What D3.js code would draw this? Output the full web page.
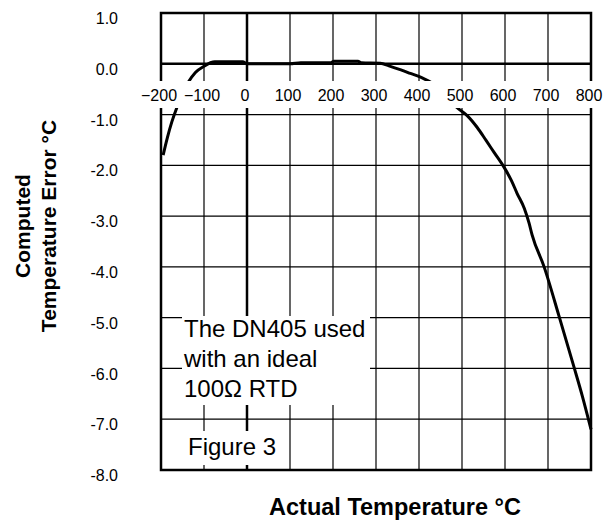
<!DOCTYPE html>
<html lang="en">
<head>
  <meta charset="UTF-8">
  <script src="https://d3js.org/d3.v7.min.js"></script>
  <style>
    body {
      margin: 0;
      padding: 0;
      background: #fff;
      font-family: "Liberation Sans", Arial, Helvetica, sans-serif;
    }
    .tick-label { font-size: 16px; fill: #000; }
    .note { font-size: 24px; fill: #000; }
    .title { font-size: 21px; font-weight: bold; fill: #000; }
  </style>
</head>
<body>
  <div id="chart"></div>

  <script>
    // curve: actual temperature (°C) vs computed error (°C)
    const temps = [-195, -185, -175, -163, -150, -137, -120, -100, -85, -75, -50, -10,
                   0, 50, 100, 125, 195, 202, 258, 266, 310, 330, 358, 380, 405, 435,
                   460, 488, 512, 535, 556, 575, 598, 615, 628, 645, 656, 663, 691,
                   726, 760, 780, 800];
    const errors = [-1.80, -1.45, -1.15, -0.86, -0.60, -0.37, -0.17, -0.05, 0.02, 0.04, 0.04, 0.04,
                    0.0, 0.0, 0.0, 0.02, 0.02, 0.05, 0.05, 0.02, 0.01, -0.04, -0.12, -0.19, -0.27, -0.41,
                    -0.60, -0.86, -1.02, -1.25, -1.51, -1.75, -2.04, -2.30, -2.55, -2.85, -3.14, -3.37, -4.00,
                    -4.98, -5.96, -6.55, -7.20];

    const xTicks = [-200, -100, 0, 100, 200, 300, 400, 500, 600, 700, 800];
    const yTicks = [1, 0, -1, -2, -3, -4, -5, -6, -7, -8];
    const yTickLabels = ["1.0", "0.0", "-1.0", "-2.0", "-3.0", "-4.0", "-5.0", "-6.0", "-7.0", "-8.0"];

    const noteLines = ["The DN405 used", "with an ideal", "100\u03A9 RTD"];
    const figureLabel = "Figure 3";
    const xTitle = "Actual Temperature \u00B0C";
    const yTitleLines = ["Computed", "Temperature Error \u00B0C"];

    const width = 608, height = 521;
    const plot = { left: 161, right: 591, top: 13, bottom: 470 };

    const svg = d3.select("#chart").append("svg")
      .attr("width", width)
      .attr("height", height);

    const x = d3.scaleLinear().domain([-200, 800]).range([plot.left, plot.right]);
    const y = d3.scaleLinear().domain([1, -8]).range([plot.top, plot.bottom]);

    // grid
    const grid = svg.append("g");
    grid.selectAll("line.v")
      .data(xTicks)
      .enter().append("line")
      .attr("x1", d => x(d)).attr("x2", d => x(d))
      .attr("y1", plot.top).attr("y2", plot.bottom)
      .attr("stroke", "#000")
      .attr("stroke-width", d => d === 0 ? 2.5 : 1.2);
    grid.selectAll("line.h")
      .data(yTicks)
      .enter().append("line")
      .attr("x1", plot.left).attr("x2", plot.right)
      .attr("y1", d => y(d)).attr("y2", d => y(d))
      .attr("stroke", "#000")
      .attr("stroke-width", d => d === 0 ? 2.5 : 1.2);

    // error curve
    const line = d3.line()
      .x((d, i) => x(temps[i]))
      .y(d => y(d))
      .curve(d3.curveMonotoneX);

    svg.append("path")
      .datum(errors)
      .attr("d", line)
      .attr("fill", "none")
      .attr("stroke", "#000")
      .attr("stroke-width", 3);

    // frame
    svg.append("rect")
      .attr("x", plot.left).attr("y", plot.top)
      .attr("width", plot.right - plot.left)
      .attr("height", plot.bottom - plot.top)
      .attr("fill", "none")
      .attr("stroke", "#000")
      .attr("stroke-width", 2.5);

    // white band carrying the x tick labels just under the zero line
    svg.append("rect")
      .attr("x", 138).attr("y", 81)
      .attr("width", 468).attr("height", 27)
      .attr("fill", "#fff");

    const xAxis = svg.append("g")
      .attr("transform", "translate(0,101)")
      .call(d3.axisBottom(x).tickValues(xTicks).tickSize(0).tickPadding(0));
    xAxis.select(".domain").remove();
    xAxis.selectAll("text")
      .attr("class", "tick-label")
      .attr("y", 0).attr("dy", 0).attr("dx", -2.5)
      .style("font-family", "inherit");

    const yAxis = svg.append("g")
      .attr("transform", `translate(${plot.left},0)`)
      .call(d3.axisLeft(y).tickValues(yTicks).tickSize(0).tickPadding(43)
        .tickFormat((d, i) => yTickLabels[i]));
    yAxis.select(".domain").remove();
    yAxis.selectAll("text")
      .attr("class", "tick-label")
      .attr("dy", "0.66em")
      .style("font-family", "inherit");

    // annotation boxes
    svg.append("rect")
      .attr("x", 182).attr("y", 316)
      .attr("width", 188).attr("height", 89)
      .attr("fill", "#fff");
    svg.append("g").selectAll("text")
      .data(noteLines)
      .enter().append("text")
      .attr("class", "note")
      .attr("x", 184)
      .attr("y", (d, i) => 337 + i * 30)
      .text(d => d);

    svg.append("rect")
      .attr("x", 182).attr("y", 431)
      .attr("width", 106).attr("height", 34)
      .attr("fill", "#fff");
    svg.append("text")
      .attr("class", "note")
      .attr("x", 188).attr("y", 455)
      .text(figureLabel);

    // titles
    svg.append("text")
      .attr("class", "title")
      .attr("x", 395).attr("y", 515)
      .attr("text-anchor", "middle")
      .style("font-size", "23.5px")
      .text(xTitle);

    svg.append("g").selectAll("text")
      .data(yTitleLines)
      .enter().append("text")
      .attr("class", "title")
      .attr("text-anchor", "middle")
      .attr("transform", (d, i) => `translate(${30 + i * 26},226) rotate(-90)`)
      .text(d => d);
  </script>
</body>
</html>
